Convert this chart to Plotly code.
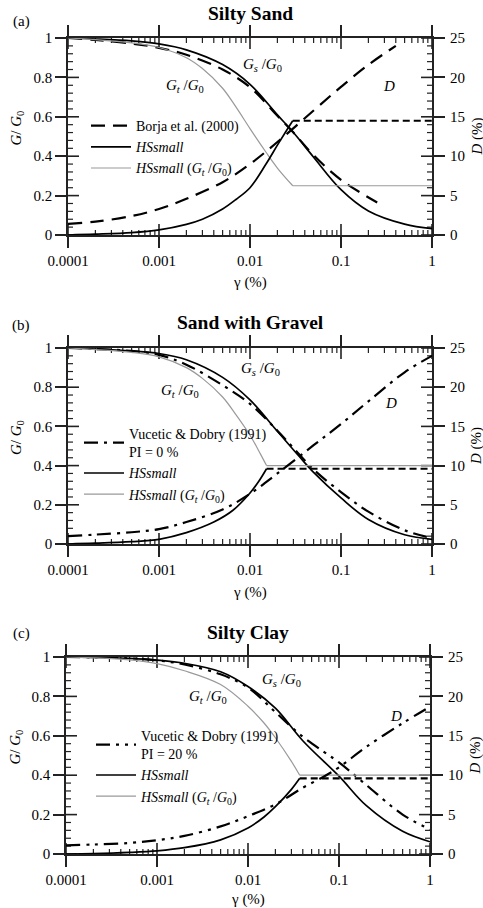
import plotly.graph_objects as go

FONT = "Liberation Serif, DejaVu Serif, Noto Serif, serif"

# ---------------- data (a) Silty Sand ----------------
gam_gs_a = [1e-4, 2e-4, 5e-4, 1e-3, 2e-3, 5e-3, 1e-2, 2e-2, 3e-2, 5e-2, 1e-1, 2e-1, 5e-1, 1]
gs_a = [1.0, 0.995, 0.985, 0.97, 0.94, 0.865, 0.765, 0.61, 0.52, 0.395, 0.23, 0.122, 0.055, 0.032]
gam_gt_a = [1e-4, 2e-4, 5e-4, 1e-3, 2e-3, 3e-3, 5e-3, 7e-3, 1e-2, 1.5e-2, 2e-2, 0.0295, 1]
gt_a = [1.0, 0.992, 0.975, 0.952, 0.9, 0.845, 0.745, 0.65, 0.54, 0.42, 0.34, 0.25, 0.25]
gam_d_a = [1e-4, 2e-4, 5e-4, 1e-3, 2e-3, 3e-3, 5e-3, 7e-3, 1e-2, 1.5e-2, 2e-2, 2.5e-2, 0.0295, 1]
d_a = [0.0, 0.1, 0.3, 0.65, 1.35, 2.0, 3.3, 4.5, 6.0, 9.0, 11.4, 13.2, 14.5, 14.5]
gam_ref_g_a = [1e-4, 2e-4, 5e-4, 1e-3, 2e-3, 5e-3, 1e-2, 2e-2, 3e-2, 5e-2, 1e-1, 0.25]
ref_g_a = [1.0, 0.99, 0.972, 0.95, 0.915, 0.84, 0.75, 0.605, 0.52, 0.405, 0.28, 0.165]
gam_ref_d_a = [1e-4, 2e-4, 5e-4, 1e-3, 2e-3, 5e-3, 1e-2, 2e-2, 5e-2, 1e-1, 2e-1, 0.4]
ref_d_a = [1.4, 1.7, 2.4, 3.3, 4.6, 6.7, 9.0, 11.8, 15.8, 18.8, 21.6, 24.0]

# ---------------- data (b) Sand with Gravel ----------------
gam_gs_b = [1e-4, 2e-4, 5e-4, 1e-3, 2e-3, 5e-3, 1e-2, 2e-2, 3.5e-2, 5e-2, 1e-1, 2e-1, 5e-1, 1]
gs_b = [1.0, 0.995, 0.985, 0.972, 0.94, 0.85, 0.735, 0.575, 0.445, 0.365, 0.235, 0.125, 0.047, 0.024]
gam_gt_b = [1e-4, 2e-4, 5e-4, 1e-3, 2e-3, 3e-3, 5e-3, 7e-3, 1e-2, 1.3e-2, 0.0152, 1]
gt_b = [1.0, 0.992, 0.978, 0.955, 0.9, 0.845, 0.75, 0.66, 0.555, 0.46, 0.40, 0.40]
gam_d_b = [1e-4, 2e-4, 5e-4, 1e-3, 2e-3, 4e-3, 6.5e-3, 1e-2, 1.25e-2, 0.0152, 1]
d_b = [0.0, 0.1, 0.3, 0.6, 1.45, 2.8, 4.3, 6.5, 8.0, 9.6, 9.6]
gam_ref_g_b = [1e-4, 2e-4, 5e-4, 1e-3, 2e-3, 5e-3, 1e-2, 2e-2, 3e-2, 5e-2, 1e-1, 2e-1, 5e-1, 1]
ref_g_b = [1.0, 0.995, 0.985, 0.965, 0.915, 0.81, 0.715, 0.578, 0.49, 0.38, 0.265, 0.165, 0.07, 0.03]
gam_ref_d_b = [1e-4, 2e-4, 5e-4, 1e-3, 2e-3, 5e-3, 1e-2, 2e-2, 5e-2, 1e-1, 2e-1, 5e-1, 1]
ref_d_b = [1.0, 1.2, 1.5, 1.9, 2.8, 4.4, 6.4, 9.0, 12.6, 15.3, 18.2, 21.9, 24.0]

# ---------------- data (c) Silty Clay ----------------
gam_gs_c = [1e-4, 2e-4, 5e-4, 1e-3, 2e-3, 5e-3, 1e-2, 2e-2, 4e-2, 1e-1, 2e-1, 5e-1, 1]
gs_c = [1.0, 0.998, 0.993, 0.984, 0.968, 0.925, 0.85, 0.74, 0.575, 0.395, 0.245, 0.115, 0.062]
gam_gt_c = [1e-4, 2e-4, 5e-4, 1e-3, 2e-3, 5e-3, 1e-2, 1.5e-2, 2e-2, 3e-2, 0.037, 1]
gt_c = [1.0, 0.996, 0.985, 0.966, 0.93, 0.86, 0.75, 0.665, 0.59, 0.47, 0.40, 0.40]
gam_d_c = [1e-4, 2e-4, 5e-4, 1e-3, 2e-3, 5e-3, 1e-2, 1.5e-2, 2e-2, 3e-2, 0.037, 1]
d_c = [0.0, 0.05, 0.2, 0.4, 0.8, 1.8, 3.3, 4.7, 6.0, 8.2, 9.6, 9.6]
gam_ref_g_c = [1e-4, 2e-4, 5e-4, 1e-3, 2e-3, 5e-3, 1e-2, 2e-2, 4e-2, 7e-2, 1e-1, 2e-1, 5e-1, 1]
ref_g_c = [1.0, 0.998, 0.993, 0.983, 0.962, 0.912, 0.845, 0.72, 0.595, 0.515, 0.465, 0.35, 0.2, 0.125]
gam_ref_d_c = [1e-4, 2e-4, 5e-4, 1e-3, 2e-3, 5e-3, 1e-2, 2e-2, 4e-2, 7e-2, 1e-1, 2e-1, 5e-1, 1]
ref_d_c = [1.1, 1.2, 1.4, 1.75, 2.3, 3.5, 4.8, 6.3, 8.4, 9.9, 11.0, 13.6, 16.6, 18.7]

x_tickvals = [1e-4, 1e-3, 1e-2, 1e-1, 1]
x_ticktext = ["0.0001", "0.001", "0.01", "0.1", "1"]
x_minor_vals = [m * 10.0 ** e for e in range(-4, 0) for m in range(2, 10)]
y_major_vals = [0.0, 0.2, 0.4, 0.6, 0.8, 1.0]
y_minor_vals = [k * 0.04 for k in range(1, 25) if k % 5 != 0]
X_RANGE = [-4, 0]

titles = ["Silty Sand", "Sand with Gravel", "Silty Clay"]
tags = ["(a)", "(b)", "(c)"]
ref_names = ["Borja et al. (2000)", "Vucetic & Dobry (1991)<br>PI = 0 %", "Vucetic & Dobry (1991)<br>PI = 20 %"]
ref_dashes = ["14px,8px", "14px,6px,3px,6px", "14px,6px,3px,6px,3px,6px"]

panels = [
    (gam_gs_a, gs_a, gam_gt_a, gt_a, gam_d_a, d_a, gam_ref_g_a, ref_g_a, gam_ref_d_a, ref_d_a),
    (gam_gs_b, gs_b, gam_gt_b, gt_b, gam_d_b, d_b, gam_ref_g_b, ref_g_b, gam_ref_d_b, ref_d_b),
    (gam_gs_c, gs_c, gam_gt_c, gt_c, gam_d_c, d_c, gam_ref_g_c, ref_g_c, gam_ref_d_c, ref_d_c),
]

W, H = 483, 908
# pixel frames of the plot areas: (left, right, top, bottom)
frames = [(68, 432, 38, 235), (68, 432, 348, 544), (66, 430, 657, 854)]
title_y = [13, 322, 632]
tag_y = [22, 325, 633]
gamma_y = [282, 592, 899]
legend_top = [110, 418, 720]
legend_textx = [137, 130, 142]
lab_gs = [(262, 65), (260, 369), (281, 680)]
lab_gt = [(185, 86), (180, 391), (208, 697)]
lab_d = [(389, 86), (391, 403), (396, 716)]
MAJOR_LEN = 11
MINOR_LEN = 5

fig = go.Figure()
layout = dict(width=W, height=H, margin=dict(l=0, r=0, t=0, b=0),
              paper_bgcolor="white", plot_bgcolor="white", showlegend=True,
              font=dict(family=FONT, size=15, color="black"))
annotations = []

BLACK = "#000000"
AXC = "#222222"
GRAY = "#9a9a9a"


def px(xp):
    return xp / W


def py(yp):
    return 1 - yp / H


def ann(text, x, y, size=15, angle=0):
    return dict(text=text, x=px(x), y=py(y), xref="paper", yref="paper", showarrow=False,
                textangle=angle, font=dict(family=FONT, size=size, color="black"),
                xanchor="center", yanchor="middle")


n = 1
for i, (gg, gs, gtx, gt, gdx, dd, rgx, rg, rdx, rd) in enumerate(panels):
    ids = [n, n + 1]
    n += 2
    xs = ["x" if k == 1 else f"x{k}" for k in ids]
    ys = ["y" if k == 1 else f"y{k}" for k in ids]
    xn = ["xaxis" if k == 1 else f"xaxis{k}" for k in ids]
    yn = ["yaxis" if k == 1 else f"yaxis{k}" for k in ids]
    leg = "legend" if i == 0 else f"legend{i+1}"
    L, R, T, B = frames[i]
    wpx, hpx = R - L, B - T
    xdom = [px(L), px(R)]
    ydom = [py(B), py(T)]
    common = dict(showgrid=False, zeroline=False, automargin=False)

    # G axis + gamma labels, outside major ticks mirrored on all four sides
    layout[xn[0]] = dict(type="log", range=X_RANGE, domain=xdom, anchor=ys[0],
                         tickmode="array", tickvals=x_tickvals, ticktext=x_ticktext,
                         ticks="outside", ticklen=MAJOR_LEN, tickwidth=1.6, tickcolor=AXC,
                         showline=True, linecolor=AXC, linewidth=1.5, mirror="ticks",
                         tickfont=dict(family=FONT, size=15), **common)
    layout[yn[0]] = dict(range=[0, 1], domain=ydom, anchor=xs[0], dtick=0.2,
                         ticks="outside", ticklen=MAJOR_LEN, tickwidth=1.6, tickcolor=AXC,
                         showline=True, linecolor=AXC, linewidth=1.5, mirror="ticks",
                         tickfont=dict(family=FONT, size=15), **common)
    # D axis (labels on the right)
    layout[xn[1]] = dict(type="log", range=X_RANGE, domain=xdom, anchor=ys[1], overlaying=xs[0],
                         side="bottom", ticks="", showticklabels=False, showline=False, **common)
    layout[yn[1]] = dict(range=[0, 25], domain=ydom, anchor=xs[1], overlaying=ys[0], side="right",
                         dtick=5, ticks="", showline=False, tickfont=dict(family=FONT, size=15),
                         ticklabelstandoff=17, **common)

    # inside tick marks (major and minor) on all four sides, drawn through the G-axis scales
    for (xvals, yvals, ln, wd) in ((x_tickvals, y_major_vals, MAJOR_LEN, 1.6),
                                   (x_minor_vals, y_minor_vals, MINOR_LEN, 1.2)):
        tx, ty = [], []
        dy = ln / hpx
        for v in xvals:
            tx += [v, v, None, v, v, None]
            ty += [0, dy, None, 1, 1 - dy, None]
        xl = 10 ** (X_RANGE[0] + (X_RANGE[1] - X_RANGE[0]) * ln / wpx)
        xr = 10 ** (X_RANGE[1] - (X_RANGE[1] - X_RANGE[0]) * ln / wpx)
        for v in yvals:
            tx += [10 ** X_RANGE[0], xl, None, 10 ** X_RANGE[1], xr, None]
            ty += [v, v, None, v, v, None]
        fig.add_trace(go.Scatter(x=tx, y=ty, xaxis=xs[0], yaxis=ys[0], mode="lines",
                                 line=dict(color=AXC, width=wd), hoverinfo="skip",
                                 connectgaps=False, showlegend=False, legend=leg))

    # reference curves (legend first)
    fig.add_trace(go.Scatter(x=rgx, y=rg, xaxis=xs[0], yaxis=ys[0], mode="lines",
                             line=dict(color=BLACK, width=2.2, dash=ref_dashes[i], shape="spline", smoothing=1),
                             name=ref_names[i], legend=leg, showlegend=True))
    fig.add_trace(go.Scatter(x=rdx, y=rd, xaxis=xs[1], yaxis=ys[1], mode="lines",
                             line=dict(color=BLACK, width=2.2, dash=ref_dashes[i], shape="spline", smoothing=1),
                             name=ref_names[i], legend=leg, showlegend=False))
    # HSsmall secant
    fig.add_trace(go.Scatter(x=gg, y=gs, xaxis=xs[0], yaxis=ys[0], mode="lines",
                             line=dict(color=BLACK, width=1.7, shape="spline", smoothing=1),
                             name="<i>HSsmall</i>", legend=leg, showlegend=True))
    # HSsmall damping: rising part then constant (dashed)
    fig.add_trace(go.Scatter(x=gdx[:-1], y=dd[:-1], xaxis=xs[1], yaxis=ys[1], mode="lines",
                             line=dict(color=BLACK, width=1.7, shape="spline", smoothing=1),
                             legend=leg, showlegend=False))
    fig.add_trace(go.Scatter(x=gdx[-2:], y=dd[-2:], xaxis=xs[1], yaxis=ys[1], mode="lines",
                             line=dict(color=BLACK, width=2.2, dash="7px,4px"),
                             legend=leg, showlegend=False))
    # HSsmall tangent
    fig.add_trace(go.Scatter(x=gtx[:-1], y=gt[:-1], xaxis=xs[0], yaxis=ys[0], mode="lines",
                             line=dict(color=GRAY, width=1.2, shape="spline", smoothing=1),
                             name="<i>HSsmall</i> (<i>G</i><sub><i>t</i></sub> /<i>G</i><sub>0</sub>)",
                             legend=leg, showlegend=True))
    fig.add_trace(go.Scatter(x=gtx[-2:], y=gt[-2:], xaxis=xs[0], yaxis=ys[0], mode="lines",
                             line=dict(color=GRAY, width=1.2),
                             legend=leg, showlegend=False))

    layout[leg] = dict(x=px(legend_textx[i] - 51), y=py(legend_top[i]), xanchor="left", yanchor="top",
                       bgcolor="rgba(0,0,0,0)", borderwidth=0, tracegroupgap=0,
                       font=dict(family=FONT, size=14, color="black"), itemwidth=40)

    # titles and labels
    annotations.append(ann(f"<b>{titles[i]}</b>", (L + R) / 2, title_y[i], size=19.5))
    annotations.append(ann(tags[i], 21, tag_y[i]))
    annotations.append(ann("γ (%)", (L + R) / 2, gamma_y[i]))
    annotations.append(ann("<i>G</i>/ <i>G</i><sub>0</sub>", L - 51, (T + B) / 2 - 8, angle=-90))
    annotations.append(ann("<i>D</i> (%)", R + 45, (T + B) / 2, angle=-90))
    annotations.append(ann("<i>G</i><sub><i>s</i></sub> /<i>G</i><sub>0</sub>", *lab_gs[i]))
    annotations.append(ann("<i>G</i><sub><i>t</i></sub> /<i>G</i><sub>0</sub>", *lab_gt[i]))
    annotations.append(ann("<i>D</i>", *lab_d[i]))

layout["annotations"] = annotations
fig.update_layout(**layout)
fig.write_html("out.html")
